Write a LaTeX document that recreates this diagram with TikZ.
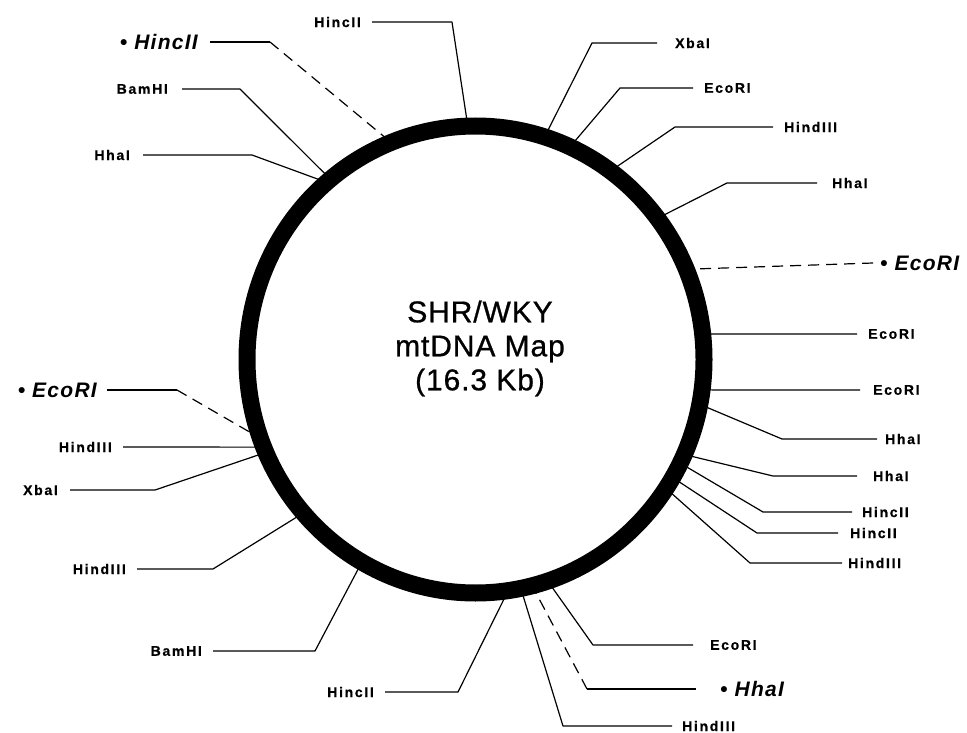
\documentclass[tikz,border=0pt]{standalone}
\usepackage{fontspec}
\newfontfamily\labf{Liberation Sans}[LetterSpace=12,FakeBold=0.6]
\newfontfamily\itf{Liberation Sans}[LetterSpace=6]
\newfontfamily\cenf{Liberation Sans}[LetterSpace=3,FakeBold=0.8]
\usetikzlibrary{calc}
\begin{document}
\begin{tikzpicture}[x=1pt,y=-1pt,
  lbl/.style={font=\labf\bfseries\fontsize{14}{14}\selectfont, inner xsep=11pt, inner ysep=0pt},
  ilbl/.style={font=\itf\bfseries\itshape\fontsize{21}{21}\selectfont, inner xsep=11pt, inner ysep=0pt},
  lead/.style={line width=1.2pt, line join=round},
  dsh/.style={line width=1.2pt, dash pattern=on 11pt off 7pt}]
\useasboundingbox (0,0) rectangle (967,733);
\coordinate (c) at (475.5,359.5);
\draw[line width=17pt] (c) ellipse [x radius=228.5, y radius=233.5];
\node[font=\cenf\fontsize{30}{34}\selectfont, align=center, inner sep=0pt] (title) at (480,348.5) {SHR/WKY\\mtDNA Map\\(16.3 Kb)};

% points on the ring
\foreach \n/\a in {A/-92,B/-112,C/-129.5,D/-131,E/161,F/158.2,G/156.6,H/139,I/119.8,J/82.2,
  K/-72.3,L/-65.4,M/-53.6,N/-37.1,O/-22.5,P/-6.2,Q/7.4,R/11.2,S/23.9,T/26.4,U/30.4,V/33.6,W/71.4,X/75.5,Y/78.5}
  {\coordinate (p\n) at ($(c)+(\a:231 and 236)$);}

% left-hand labels
\node[lbl,anchor=east] (tA) at (372,22) {HincII};
\coordinate (eA) at (452,22);
\draw[lead] (tA.east) -- (eA) -- (pA);

\node[ilbl,anchor=east,inner xsep=12pt] (tB) at (210,42) {•\ HincII};
\coordinate (eB) at (270,42);
\draw[lead] (tB.east) -- (eB);
\draw[dsh] (eB) -- (pB);

\node[lbl,anchor=east,inner xsep=14pt] (tC) at (182,89) {BamHI};
\coordinate (eC) at (240,89);
\draw[lead] (tC.east) -- (eC) -- (pC);

\node[lbl,anchor=east,inner xsep=13pt] (tD) at (143,155) {HhaI};
\coordinate (eD) at (252,155);
\draw[lead] (tD.east) -- (eD) -- (pD);

\node[ilbl,anchor=east,inner xsep=10pt] (tE) at (107,390) {•\ EcoRI};
\coordinate (eE) at (177,390);
\draw[lead] (tE.east) -- (eE);
\draw[dsh] (eE) -- (pE);

\node[lbl,anchor=east] (tF) at (123,447) {HindIII};
\draw[lead] (tF.east) -- (pF);

\node[lbl,anchor=east,inner xsep=12pt] (tG) at (70,490) {XbaI};
\coordinate (eG) at (155,490);
\draw[lead] (tG.east) -- (eG) -- (pG);

\node[lbl,anchor=east] (tH) at (137,569) {HindIII};
\coordinate (eH) at (213,569);
\draw[lead] (tH.east) -- (eH) -- (pH);

\node[lbl,anchor=east] (tI) at (213,651) {BamHI};
\coordinate (eI) at (315,651);
\draw[lead] (tI.east) -- (eI) -- (pI);

\node[lbl,anchor=east] (tJ) at (385,692) {HincII};
\coordinate (eJ) at (458,692);
\draw[lead] (tJ.east) -- (eJ) -- (pJ);

% right-hand labels
\node[lbl,anchor=west,inner xsep=18pt] (tK) at (657,43) {XbaI};
\coordinate (eK) at (592,43);
\draw[lead] (tK.west) -- (eK) -- (pK);

\node[lbl,anchor=west] (tL) at (693,88) {EcoRI};
\coordinate (eL) at (620,88);
\draw[lead] (tL.west) -- (eL) -- (pL);

\node[lbl,anchor=west] (tM) at (773,127) {HindIII};
\coordinate (eM) at (675,127);
\draw[lead] (tM.west) -- (eM) -- (pM);

\node[lbl,anchor=west,inner xsep=15pt] (tN) at (817,183) {HhaI};
\coordinate (eN) at (727,183);
\draw[lead] (tN.west) -- (eN) -- (pN);

\node[ilbl,anchor=west,inner xsep=7pt] (tO) at (873,263) {•\ EcoRI};
\draw[dsh] (tO.west) -- (pO);

\node[lbl,anchor=west] (tP) at (857,334) {EcoRI};
\draw[lead] (tP.west) -- (pP);

\node[lbl,anchor=west,inner xsep=13pt] (tQ) at (860,390) {EcoRI};
\draw[lead] (tQ.west) -- (pQ);

\node[lbl,anchor=west,inner xsep=8pt] (tR) at (877,439) {HhaI};
\coordinate (eR) at (782,439);
\draw[lead] (tR.west) -- (eR) -- (pR);

\node[lbl,anchor=west,inner xsep=16pt] (tS) at (857,476) {HhaI};
\coordinate (eS) at (773,476);
\draw[lead] (tS.west) -- (eS) -- (pS);

\node[lbl,anchor=west,inner xsep=10pt] (tT) at (852,512) {HincII};
\coordinate (eT) at (763,512);
\draw[lead] (tT.west) -- (eT) -- (pT);

\node[lbl,anchor=west,inner xsep=12pt] (tU) at (838,533) {HincII};
\coordinate (eU) at (757,533);
\draw[lead] (tU.west) -- (eU) -- (pU);

\node[lbl,anchor=west,inner xsep=6pt] (tV) at (842,563) {HindIII};
\coordinate (eV) at (750,563);
\draw[lead] (tV.west) -- (eV) -- (pV);

\node[lbl,anchor=west,inner xsep=17pt] (tW) at (693,645) {EcoRI};
\coordinate (eW) at (593,645);
\draw[lead] (tW.west) -- (eW) -- (pW);

\node[ilbl,anchor=west,inner xsep=24pt] (tX) at (696,689) {•\ HhaI};
\coordinate (eX) at (587,689);
\draw[lead] (tX.west) -- (eX);
\draw[dsh] (eX) -- (pX);

\node[lbl,anchor=west,inner xsep=10pt] (tY) at (672,726) {HindIII};
\coordinate (eY) at (563,726);
\draw[lead] (tY.west) -- (eY) -- (pY);
\end{tikzpicture}
\end{document}
